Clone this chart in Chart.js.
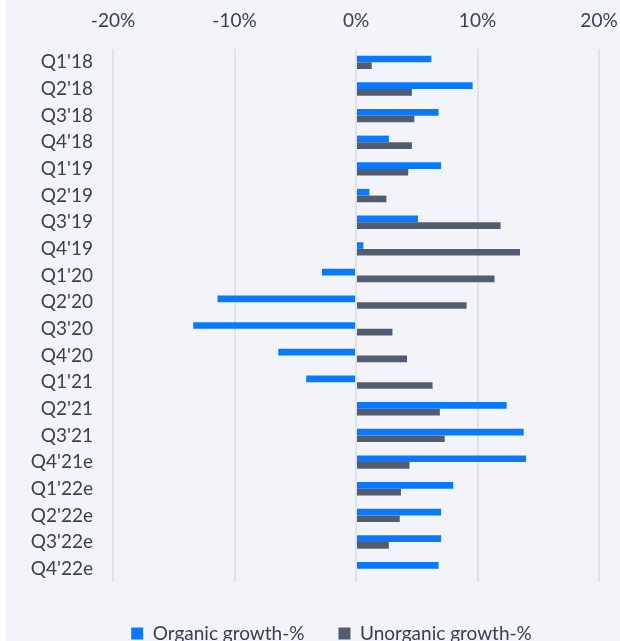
<!DOCTYPE html>
<html>
<head>
<meta charset="utf-8">
<title>Organic vs unorganic growth</title>
<script src="https://cdn.jsdelivr.net/npm/chart.js@4/dist/chart.umd.min.js"></script>
<style>
    html, body { margin: 0; padding: 0; background: #fff; overflow: hidden; }
    #wrap {
        position: absolute; left: 6px; top: 0;
        width: 640px; height: 660px;
        background: #F2F4F9;
    }
</style>
</head>
<body>
<div id="wrap"><canvas id="growthChart"></canvas></div>
<script>
// Quarterly growth, %
const quarters = [
    "Q1'18", "Q2'18", "Q3'18", "Q4'18", "Q1'19", "Q2'19", "Q3'19", "Q4'19",
    "Q1'20", "Q2'20", "Q3'20", "Q4'20", "Q1'21", "Q2'21", "Q3'21", "Q4'21e",
    "Q1'22e", "Q2'22e", "Q3'22e", "Q4'22e"
];
const organicGrowth = [
    6.2, 9.6, 6.8, 2.7, 7.0, 1.1, 5.1, 0.6,
    -2.8, -11.4, -13.4, -6.4, -4.1, 12.4, 13.8, 14.0,
    8.0, 7.0, 7.0, 6.8
];
const unorganicGrowth = [
    1.3, 4.6, 4.8, 4.6, 4.3, 2.5, 11.9, 13.5,
    11.4, 9.1, 3.0, 4.2, 6.3, 6.9, 7.3, 4.4,
    3.7, 3.6, 2.7, null
];
const xTicks = [-20, -10, 0, 10, 20];

const textColor = '#394150';
const gridColor = '#DFE3EA';
const font = { family: 'Lato, "Open Sans", sans-serif', size: 19 };

Chart.defaults.font.family = font.family;
Chart.defaults.color = textColor;

// the legend sits a bit right of the canvas centre in the original
const legendShift = {
    id: 'legendShift',
    afterLayout(chart) {
        chart.legend.left += 29;
        chart.legend.right += 29;
    }
};

new Chart(document.getElementById('growthChart'), {
    type: 'bar',
    data: {
        labels: quarters,
        datasets: [
            {
                label: 'Organic growth-%',
                data: organicGrowth,
                backgroundColor: '#0A78FF',
                borderWidth: 0
            },
            {
                label: 'Unorganic growth-%',
                data: unorganicGrowth,
                backgroundColor: '#525C6E',
                borderWidth: 0
            }
        ]
    },
    plugins: [legendShift],
    options: {
        indexAxis: 'y',
        responsive: true,
        maintainAspectRatio: false,
        animation: false,
        devicePixelRatio: 1,
        datasets: {
            bar: { categoryPercentage: 0.5, barPercentage: 1.0 }
        },
        layout: {
            padding: { left: 0, right: 47, top: 0, bottom: 7 }
        },
        scales: {
            x: {
                position: 'top',
                min: xTicks[0],
                max: xTicks[xTicks.length - 1],
                afterBuildTicks: axis => { axis.ticks = xTicks.map(v => ({ value: v })); },
                afterFit: axis => { axis.height = 49; },
                grid: { color: gridColor, lineWidth: 2, drawTicks: false },
                border: { display: false },
                ticks: {
                    padding: 17,
                    color: textColor,
                    font,
                    callback: v => v + '%'
                }
            },
            y: {
                afterFit: axis => { axis.width = 107; },
                grid: { display: false, drawTicks: false },
                border: { display: false },
                ticks: {
                    padding: 20,
                    autoSkip: false,
                    color: textColor,
                    font
                }
            }
        },
        plugins: {
            legend: {
                position: 'bottom',
                title: { display: true, text: '', padding: 0, font: { size: 8, lineHeight: 1 } },
                labels: {
                    boxWidth: 12,
                    boxHeight: 12,
                    padding: 34,
                    color: textColor,
                    font
                }
            },
            tooltip: {
                callbacks: { label: c => `${c.dataset.label}: ${c.parsed.x}%` }
            }
        }
    }
});
</script>
</body>
</html>
